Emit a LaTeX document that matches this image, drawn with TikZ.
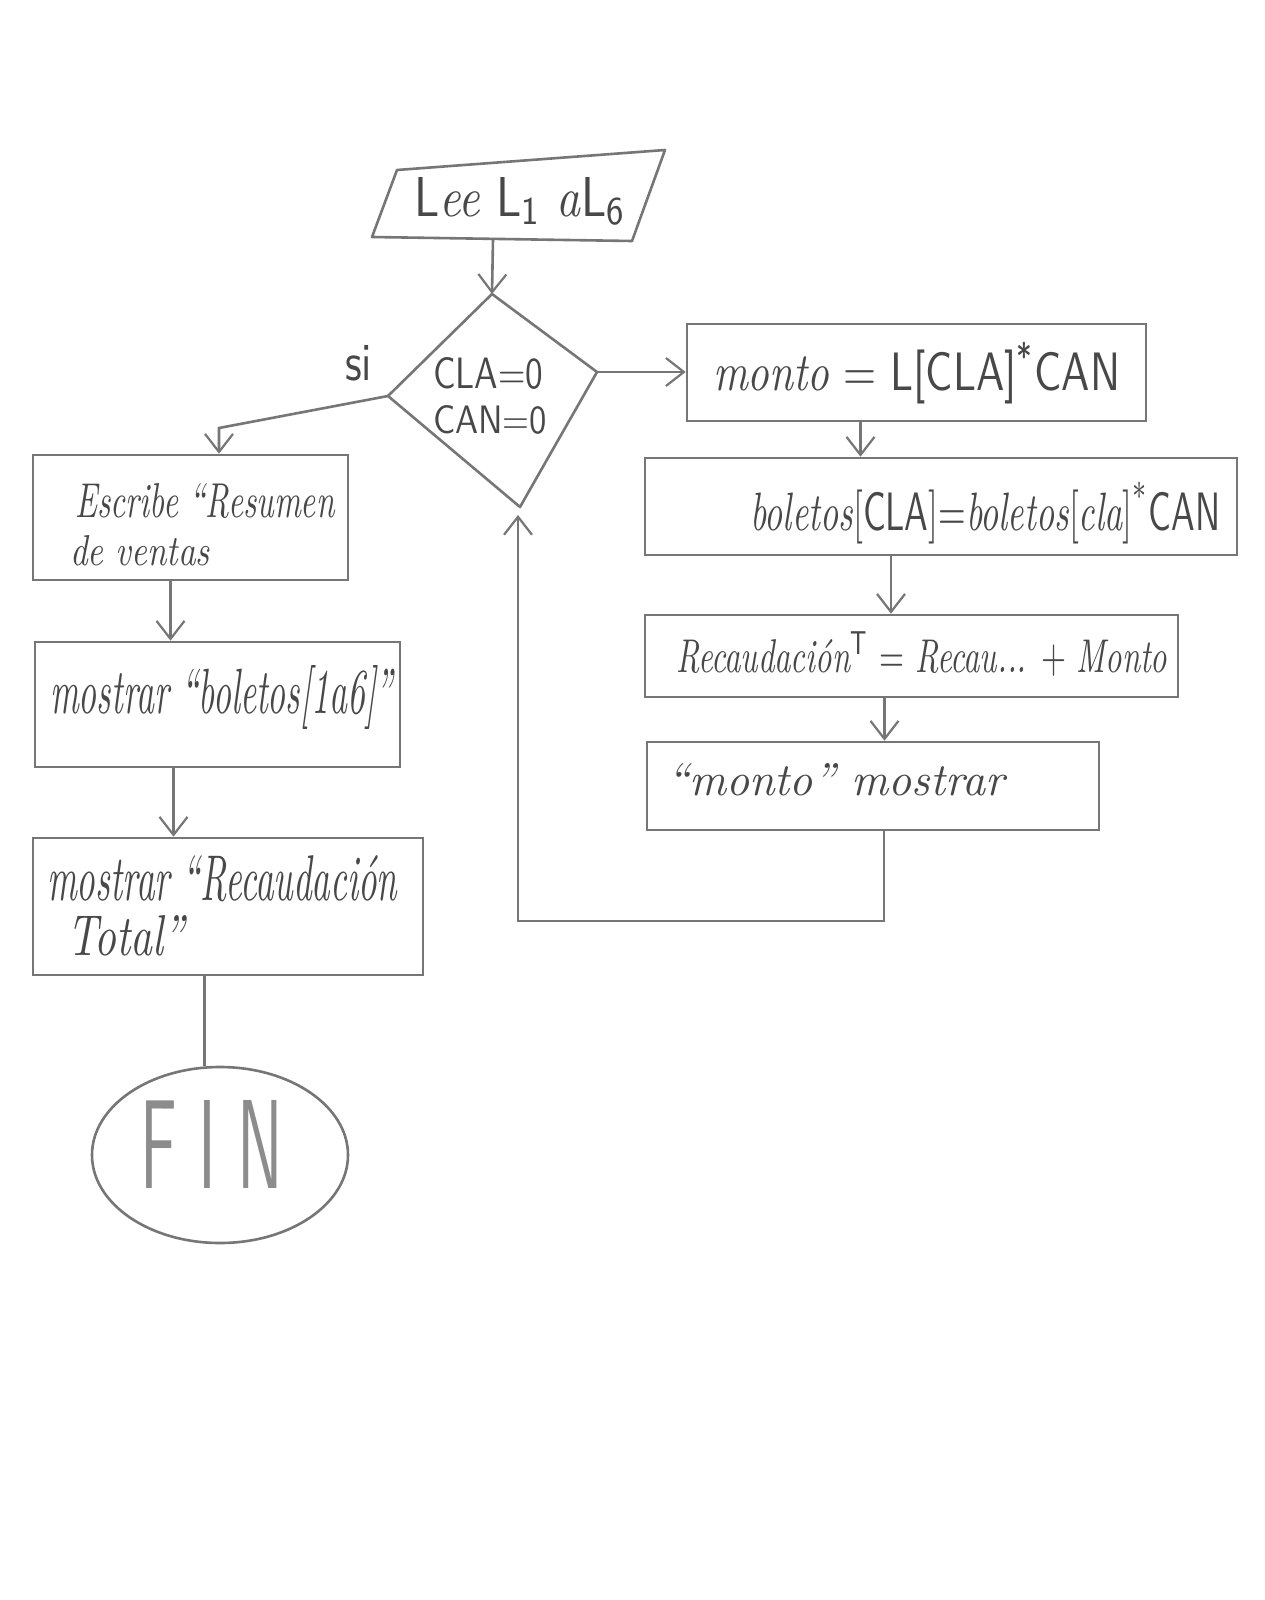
\documentclass[tikz,border=0pt]{standalone}
\usepackage{fontspec}
\usepackage{graphicx}
\usetikzlibrary{arrows.meta,shapes.geometric}
\newcommand{\hwtext}[3]{\resizebox{#1pt}{#2pt}{#3}}
\definecolor{pencil}{RGB}{118,118,118}
\definecolor{ink}{RGB}{72,72,72}
\definecolor{lightink}{RGB}{140,140,140}
\begin{document}
\begin{tikzpicture}[x=1pt,y=-1pt,
  box/.style={draw=pencil, line width=2.6pt, rectangle, inner sep=0pt},
  conn/.style={draw=pencil, line width=2.6pt},
  arr/.style={draw=pencil, line width=2.6pt, -{Straight Barb[length=18pt,width=28pt,line width=2.2pt]}},
  txt/.style={anchor=base west, inner sep=0pt, text=ink}]
\fill[white] (0,0) rectangle (1264,1600);
\useasboundingbox (0,0) rectangle (1264,1600);

% input parallelogram
\coordinate (pTL) at (397,170);
\coordinate (pTR) at (665,150);
\coordinate (pBR) at (632,241);
\coordinate (pBL) at (372,237);
\draw[conn, line join=round] (pTL) -- (pTR) -- (pBR) -- (pBL) -- cycle;
\coordinate (in) at (493,239);
\node[txt] (tin) at (414,216) {\hwtext{212}{39}{{\sffamily L}\textit{ee} {\sffamily L\textsubscript{1}} \textit{a}{\sffamily L\textsubscript{6}}}};

% decision diamond
\coordinate (dT) at (492,294);
\coordinate (dR) at (597,372);
\coordinate (dB) at (520,507);
\coordinate (dL) at (388,396);
\draw[conn, line join=round] (dT) -- (dR) -- (dB) -- (dL) -- cycle;
\node[txt] (cla) at (433,388) {\hwtext{110}{31}{\sffamily CLA=0}};
\node[txt] (can) at (433,433) {\hwtext{114}{28}{\sffamily CAN=0}};
\node[txt] (si) at (345,380) {\hwtext{27}{35}{\sffamily si}};

% right column
\node[box, minimum width=459pt, minimum height=97pt] (m) at (916.5,372.5) {};
\node[txt] (tm) at (713,390) {\hwtext{407}{48}{\textit{monto} = {\sffamily L[CLA]\textsuperscript{*}CAN}}};

\node[box, minimum width=592pt, minimum height=97pt] (b) at (941,506.5) {};
\node[txt] (tb) at (750,530) {\hwtext{470}{48}{\textit{boletos}[{\sffamily CLA}]=\textit{boletos}[\textit{cla}]\textsuperscript{*}{\sffamily CAN}}};

\node[box, minimum width=533pt, minimum height=82pt] (r) at (911.5,656) {};
\node[txt] (tr) at (676,672) {\hwtext{491}{40}{\textit{Recaudación}{\sffamily\textsuperscript{T}} = \textit{Recau...} + \textit{Monto}}};

\node[box, minimum width=452pt, minimum height=88pt] (mm) at (873,786) {};
\node[txt] (tmm) at (667,795) {\hwtext{340}{32}{\textit{“monto”\ mostrar}}};

% left column
\node[box, minimum width=315pt, minimum height=125pt] (e) at (190.5,517.5) {};
\node[txt] (te1) at (75,517) {\hwtext{260}{34}{\textit{Escribe “Resumen}}};
\node[txt] (te2) at (70,565) {\hwtext{140}{30}{\textit{de ventas}}};

\node[box, minimum width=365pt, minimum height=125pt] (mb) at (217.5,704.5) {};
\node[txt] (tmb) at (50,713) {\hwtext{345}{48}{\textit{mostrar “boletos[1a6]”}}};

\node[box, minimum width=390pt, minimum height=137pt] (mr) at (228,906.5) {};
\node[txt] (tmr1) at (47,900) {\hwtext{351}{45}{\textit{mostrar “Recaudación}}};
\node[txt] (tmr2) at (67,955) {\hwtext{120}{40}{\textit{Total”}}};

\node[draw=pencil, line width=2.6pt, ellipse, minimum width=256pt, minimum height=176pt, inner sep=0pt] (fin) at (220,1155) {};
\node[anchor=base west, inner sep=0pt, text=lightink] (tfin) at (140,1188) {\hwtext{143}{88}{\sffamily F I N}};

% connectors
\draw[arr] (in) -- (dT);
\coordinate (k1) at (219,428);
\draw[arr] (dL) -- (k1) -- (k1 |- e.north);
\draw[arr] (dR) -- (dR -| m.west);
\draw[arr] ([xshift=-56pt]m.south) -- ([xshift=-56pt]m.south |- b.north);
\draw[arr] ([xshift=-50pt]b.south) -- ([xshift=-50pt]b.south |- r.north);
\draw[arr] ([xshift=-27pt]r.south) -- ([xshift=-27pt]r.south |- mm.north);
\coordinate (lp) at (518,921);
\draw[arr] ([xshift=11pt]mm.south) |- (lp) -- ([yshift=-8pt]lp |- dB);
\draw[arr] ([xshift=-20pt]e.south) -- ([xshift=-20pt]e.south |- mb.north);
\draw[arr] ([xshift=-44pt]mb.south) -- ([xshift=-44pt]mb.south |- mr.north);
\draw[conn] (mr.south -| fin.100) -- (fin.100);
\end{tikzpicture}
\end{document}
